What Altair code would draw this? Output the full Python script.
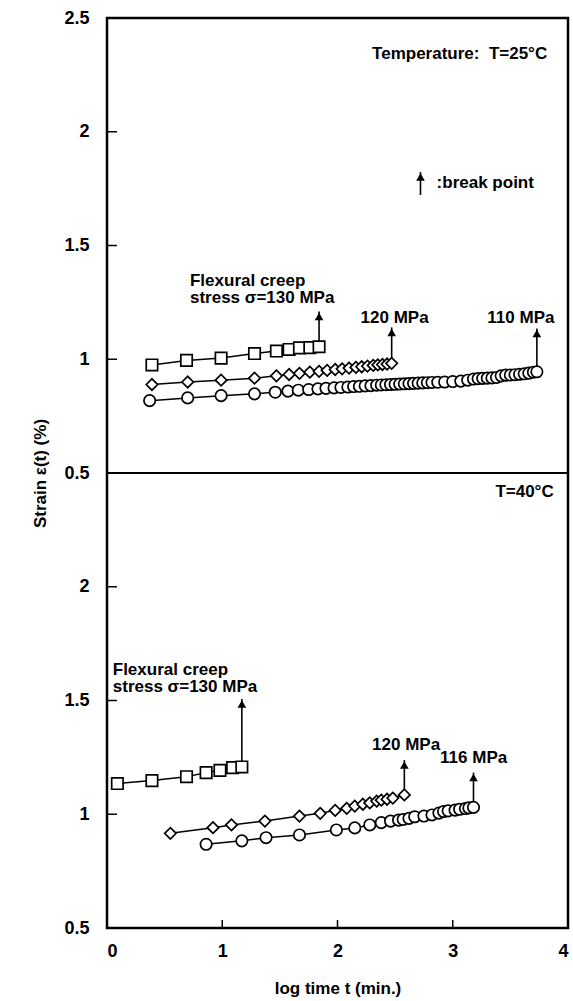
import altair as alt
import pandas as pd

FONT = "Liberation Sans"

# ---------------- data (log time t [min], strain %) ----------------
# T = 25 C
t25_130_x = [0.39, 0.69, 0.99, 1.28, 1.47, 1.58, 1.67, 1.76, 1.84]
t25_130_y = [0.975, 0.995, 1.005, 1.025, 1.036, 1.043, 1.050, 1.051, 1.055]

t25_120_x = [0.39, 0.70, 0.99, 1.28, 1.47, 1.58, 1.67, 1.76, 1.84, 1.91, 1.98,
             2.04, 2.10, 2.16, 2.21, 2.26, 2.31, 2.35, 2.39, 2.43, 2.47]
t25_120_y = [0.889, 0.900, 0.908, 0.917, 0.927, 0.933, 0.938, 0.943, 0.947, 0.951, 0.955,
             0.958, 0.961, 0.964, 0.967, 0.970, 0.973, 0.975, 0.977, 0.979, 0.982]

t25_110_x = [0.37, 0.70, 0.99, 1.28, 1.46, 1.57, 1.66, 1.75, 1.83, 1.90, 1.97, 2.03,
             2.09, 2.14, 2.19, 2.24, 2.29, 2.34, 2.38, 2.42, 2.46, 2.50, 2.54, 2.58,
             2.62, 2.66, 2.70, 2.74, 2.78, 2.82, 2.87, 2.93, 3.00, 3.07, 3.13, 3.18,
             3.22, 3.26, 3.30, 3.34, 3.38, 3.42, 3.46, 3.50, 3.54, 3.58, 3.62, 3.66,
             3.70, 3.73]
t25_110_y = [0.818, 0.830, 0.840, 0.848, 0.855, 0.860, 0.864, 0.867, 0.870, 0.872, 0.874, 0.876,
             0.878, 0.880, 0.881, 0.883, 0.884, 0.886, 0.887, 0.888, 0.889, 0.890, 0.891, 0.892,
             0.893, 0.894, 0.895, 0.896, 0.897, 0.898, 0.899, 0.900, 0.902, 0.904, 0.908, 0.913,
             0.915, 0.916, 0.917, 0.918, 0.920, 0.927, 0.930, 0.931, 0.932, 0.934, 0.936, 0.939,
             0.943, 0.945]

# T = 40 C
t40_130_x = [0.09, 0.39, 0.69, 0.86, 0.98, 1.09, 1.17]
t40_130_y = [1.135, 1.148, 1.165, 1.183, 1.193, 1.205, 1.208]

t40_120_x = [0.55, 0.92, 1.08, 1.37, 1.67, 1.85, 1.98, 2.08, 2.15, 2.22, 2.28, 2.34,
             2.38, 2.43, 2.48, 2.58]
t40_120_y = [0.916, 0.941, 0.953, 0.970, 0.992, 1.004, 1.017, 1.026, 1.036, 1.044, 1.050, 1.058,
             1.062, 1.066, 1.071, 1.085]

t40_116_x = [0.86, 1.17, 1.38, 1.67, 1.99, 2.15, 2.28, 2.38, 2.46, 2.53, 2.57, 2.62,
             2.67, 2.75, 2.82, 2.88, 2.92, 2.96, 3.02, 3.06, 3.11, 3.14, 3.18]
t40_116_y = [0.868, 0.883, 0.897, 0.909, 0.931, 0.940, 0.953, 0.963, 0.970, 0.974, 0.977, 0.982,
             0.989, 0.992, 0.997, 1.005, 1.012, 1.015, 1.018, 1.022, 1.025, 1.028, 1.030]

# break-point arrow tips (strain %), one per series
arrow_tips = {"25_130": 1.210, "25_120": 1.140, "25_110": 1.135,
              "40_130": 1.507, "40_120": 1.238, "40_116": 1.183}

series = [
    ("25_130", "top", "square", t25_130_x, t25_130_y),
    ("25_120", "top", "diamond", t25_120_x, t25_120_y),
    ("25_110", "top", "circle", t25_110_x, t25_110_y),
    ("40_130", "bottom", "square", t40_130_x, t40_130_y),
    ("40_120", "bottom", "diamond", t40_120_x, t40_120_y),
    ("40_116", "bottom", "circle", t40_116_x, t40_116_y),
]

# top panel is stacked above the bottom one on a shared scale (offset by 2)
OFFSET = {"top": 2.0, "bottom": 0.0}

rows, arrows = [], []
for name, panel, shape, xs, ys in series:
    for x, y in zip(xs, ys):
        rows.append({"series": name, "shape": shape, "logt": x, "yc": y + OFFSET[panel]})
    arrows.append({"series": name, "logt": xs[-1], "base": ys[-1] + OFFSET[panel],
                   "tip": arrow_tips[name] + OFFSET[panel]})
df = pd.DataFrame(rows)
arr = pd.DataFrame(arrows)

NB = "\u00a0"
# annotations (data coordinates)
notes = [
    ("Temperature:" + NB + NB + "T=25°C", 2.30, 2.342 + 2),
    (":break point", 2.86, 1.775 + 2),
    ("Flexural creep", 0.72, 1.344 + 2),
    ("stress σ=130 MPa", 0.72, 1.269 + 2),
    ("120 MPa", 2.20, 1.181 + 2),
    ("110 MPa", 3.30, 1.181 + 2),
    ("T=40°C", 3.37, 2.416),
    ("Flexural creep", 0.05, 1.634),
    ("stress σ=130 MPa", 0.05, 1.559),
    ("120 MPa", 2.30, 1.304),
    ("116 MPa", 2.89, 1.247),
]
notes_df = pd.DataFrame(notes, columns=["text", "logt", "yc"])

legend_arrow = pd.DataFrame([{"logt": 2.72, "base": 1.722 + 2, "tip": 1.823 + 2}])

ytick_vals = pd.DataFrame({"yc": [1.0, 1.5, 2.0, 3.0, 3.5, 4.0]})
xtick_vals = pd.DataFrame({"logt": [1, 2, 3]})

W, H = 461, 910

xscale = alt.Scale(domain=[0, 4], nice=False)
yscale = alt.Scale(domain=[0.5, 4.5], nice=False)

X = alt.X("logt:Q", scale=xscale,
          axis=alt.Axis(values=[0, 1, 2, 3, 4], labelExpr="format(datum.value, '~g')",
                        ticks=False, domain=False, grid=False, labelPadding=14,
                        title="log time t (min.)", titlePadding=20,
                        labelFontSize=18, labelFont=FONT, labelFontWeight="bold",
                        titleFontSize=17, titleFont=FONT, titleFontWeight="bold",
                        labelColor="black", titleColor="black"))
Y = alt.Y("yc:Q", scale=yscale,
          axis=alt.Axis(values=[0.5, 1, 1.5, 2, 2.5, 3, 3.5, 4, 4.5],
                        labelExpr="format(datum.value > 2.5 ? datum.value - 2 : (datum.value == 2.5 ? 0.5 : datum.value), '~g')",
                        ticks=False, domain=False, grid=False, labelPadding=18,
                        title="Strain ε(t) (%)", titlePadding=14,
                        labelFontSize=18, labelFont=FONT, labelFontWeight="bold",
                        titleFontSize=17, titleFont=FONT, titleFontWeight="bold",
                        labelColor="black", titleColor="black"))

base = alt.Chart(df)

lines = base.mark_line(color="black", strokeWidth=1.5).encode(
    x=X, y=Y, detail="series:N", order="logt:Q")

points = base.mark_point(filled=True, fill="white", stroke="black", strokeWidth=1.7,
                         size=130, opacity=1).encode(
    x="logt:Q", y="yc:Q",
    shape=alt.Shape("shape:N", scale=None, legend=None))

arrow_stems = alt.Chart(arr).mark_rule(color="black", strokeWidth=1.6).encode(
    x="logt:Q", y="base:Q", y2="tip:Q")
arrow_heads = alt.Chart(arr).mark_point(shape="triangle-up", filled=True, color="black",
                                        size=75, opacity=1, yOffset=5).encode(
    x="logt:Q", y="tip:Q")

leg_stem = alt.Chart(legend_arrow).mark_rule(color="black", strokeWidth=1.6).encode(
    x="logt:Q", y="base:Q", y2="tip:Q")
leg_head = alt.Chart(legend_arrow).mark_point(shape="triangle-up", filled=True, color="black",
                                              size=75, opacity=1, yOffset=5).encode(
    x="logt:Q", y="tip:Q")

texts = alt.Chart(notes_df).mark_text(align="left", baseline="middle", font=FONT,
                                      fontWeight="bold", fontSize=17, color="black").encode(
    x="logt:Q", y="yc:Q", text="text:N")

divider = alt.Chart(pd.DataFrame({"yc": [2.5]})).mark_rule(color="black", strokeWidth=2).encode(
    y="yc:Q", x=alt.value(0), x2=alt.value(W))

yticks = alt.Chart(ytick_vals).mark_rule(color="black", strokeWidth=1.5).encode(
    y="yc:Q", x=alt.value(0), x2=alt.value(10))
xticks = alt.Chart(xtick_vals).mark_rule(color="black", strokeWidth=1.5).encode(
    x="logt:Q", y=alt.value(H), y2=alt.value(H - 8))

chart = alt.layer(lines, arrow_stems, points, arrow_heads, leg_stem, leg_head, texts,
                  divider, yticks, xticks).properties(
    width=W, height=H,
    padding={"left": 107, "top": 18, "right": 5, "bottom": 73},
    autosize=alt.AutoSizeParams(type="none"),
    background="white",
).configure_view(stroke="black", strokeWidth=2.5)

chart.save("out.html", embed_options={"renderer": "svg", "actions": False})
